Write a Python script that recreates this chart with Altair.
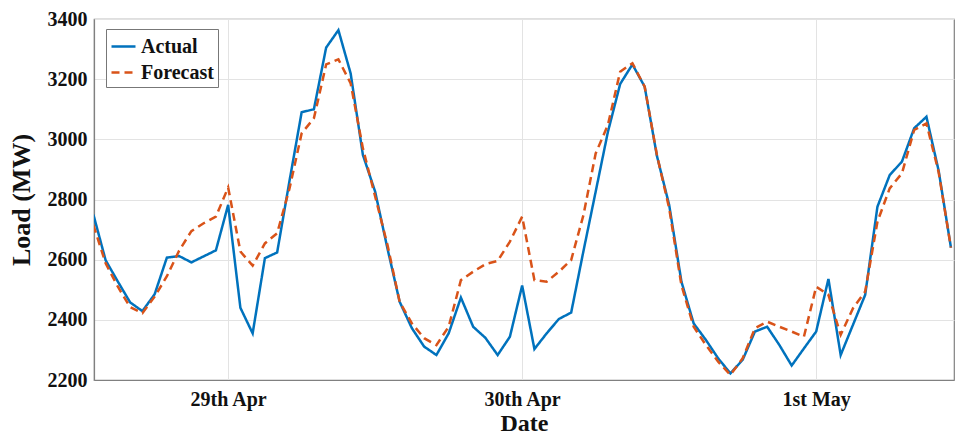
import altair as alt
import pandas as pd

# Hourly load, hours counted from 29th Apr 00:00
hours = list(range(-11, 60))

actual = [
    2750, 2598, 2527, 2458, 2429, 2485, 2607, 2612, 2591, 2611, 2631,   # -11 .. -1
    2782, 2440, 2355, 2605, 2624, 2860, 3090, 3100, 3305, 3363, 3219, 2948,  # 0 .. 11
    2826, 2638, 2460, 2372, 2311, 2283, 2355, 2474, 2377, 2340, 2283, 2344,  # 12 .. 23
    2514, 2303, 2355, 2403, 2424, 2628, 2826, 3025, 3184, 3249, 3175, 2945,  # 24 .. 35
    2782, 2527, 2388, 2333, 2272, 2222, 2267, 2361, 2377, 2316, 2248, 2305,  # 36 .. 47
    2361, 2536, 2283, 2383, 2483, 2776, 2881, 2926, 3037, 3075, 2895, 2640,  # 48 .. 59
]

forecast = [
    2715, 2588, 2510, 2442, 2422, 2477, 2545, 2630, 2695, 2721, 2743,
    2840, 2627, 2580, 2654, 2688, 2835, 3020, 3070, 3249, 3266, 3186, 2970,
    2810, 2650, 2460, 2388, 2339, 2316, 2377, 2532, 2560, 2585, 2596, 2660,
    2743, 2532, 2527, 2560, 2599, 2748, 2953, 3048, 3225, 3253, 3175, 2948,
    2771, 2515, 2377, 2316, 2261, 2217, 2272, 2372, 2394, 2377, 2361, 2344,
    2510, 2483, 2350, 2438, 2494, 2726, 2837, 2887, 3031, 3053, 2890, 2640,
]

series_names = ["Actual", "Forecast"]
day_ticks = [0, 24, 48]
day_labels = ["29th Apr", "30th Apr", "1st May"]
load_ticks = [2200, 2400, 2600, 2800, 3000, 3200, 3400]

df = pd.concat([
    pd.DataFrame({"hour": hours, "load": actual, "series": "Actual"}),
    pd.DataFrame({"hour": hours, "load": forecast, "series": "Forecast"}),
])

label_expr = " : ".join(
    f"datum.value == {t} ? '{l}'" for t, l in zip(day_ticks, day_labels)
) + " : ''"

FONT = "Liberation Serif"
TEXT = "#111111"

axis_style = dict(
    labelFont=FONT, titleFont=FONT, labelFontWeight="bold", titleFontWeight="bold",
    labelColor=TEXT, titleColor=TEXT, labelFontSize=20,
    gridColor="#e3e3e3", gridWidth=1, domainColor="#808080", domainWidth=1.2,
    tickSize=0,
)

legend_style = dict(
    title=None, orient="none", legendX=12, legendY=10,
    symbolType="stroke", symbolSize=576, symbolStrokeWidth=2.5,
    labelFontSize=20, labelFont=FONT, labelFontWeight="bold", labelColor=TEXT,
    labelOffset=4, rowPadding=2, padding=4,
    fillColor="white", strokeColor="#777777",
)

chart = alt.Chart(df).mark_line(strokeWidth=2.5, clip=True).encode(
    x=alt.X(
        "hour:Q",
        scale=alt.Scale(domain=[-10.95, 59.25], nice=False, zero=False),
        axis=alt.Axis(
            values=day_ticks, labelExpr=label_expr, title="Date",
            titleFontSize=24, labelPadding=9, titlePadding=2, **axis_style,
        ),
    ),
    y=alt.Y(
        "load:Q",
        scale=alt.Scale(domain=[2200, 3400], nice=False, zero=False),
        axis=alt.Axis(
            values=load_ticks, format="d", title="Load (MW)",
            titleFontSize=26, labelPadding=7, titlePadding=13, **axis_style,
        ),
    ),
    color=alt.Color(
        "series:N",
        scale=alt.Scale(domain=series_names, range=["#0072BD", "#D95319"]),
        legend=alt.Legend(**legend_style),
    ),
    strokeDash=alt.StrokeDash(
        "series:N",
        scale=alt.Scale(domain=series_names, range=[[1, 0], [8, 5]]),
        legend=alt.Legend(**legend_style),
    ),
).properties(
    width=860,
    height=361,
    background="white",
    autosize=alt.AutoSizeParams(type="none"),
    padding={"left": 94, "top": 19, "right": 2, "bottom": 54},
).configure_view(
    stroke="#808080", strokeWidth=1.2,
)

chart.save("out.html", embed_options={"renderer": "svg", "actions": False})
